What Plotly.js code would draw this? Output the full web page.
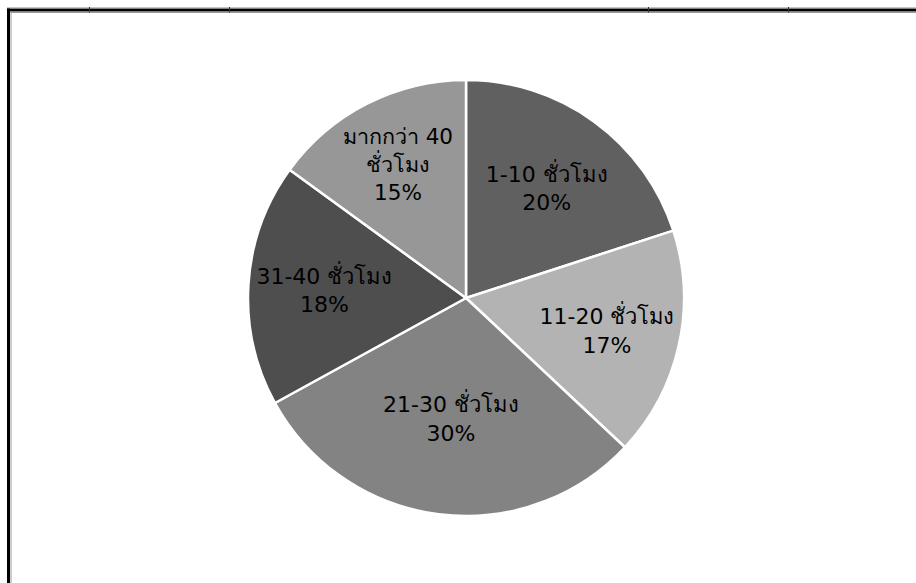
<!DOCTYPE html>
<html>
<head>
<meta charset="utf-8">
<script src="https://cdn.plot.ly/plotly-3.0.1.min.js"></script>
<style>
  html, body { margin: 0; padding: 0; background: #ffffff; }
  #chart { width: 916px; height: 583px; }
</style>
</head>
<body>
<div id="chart"></div>
<script>
const categories = ["1-10 ชั่วโมง", "11-20 ชั่วโมง", "21-30 ชั่วโมง", "31-40 ชั่วโมง", "มากกว่า 40<br>ชั่วโมง"];
const percents = [20, 17, 30, 18, 15];
const sliceColors = ["#606060", "#b3b3b3", "#838383", "#4e4e4e", "#979797"];

const trace = {
  type: "pie",
  labels: categories,
  values: percents,
  sort: false,
  direction: "clockwise",
  rotation: 0,
  marker: { colors: sliceColors, line: { color: "#ffffff", width: 2.5 } },
  textinfo: "label+percent",
  texttemplate: "%{label}<br>%{percent:.0%}",
  textposition: "inside",
  insidetextorientation: "horizontal",
  insidetextfont: { family: "Tahoma, 'DejaVu Sans', 'Noto Sans', sans-serif", size: 22, color: "#000000" },
  hoverinfo: "skip",
  showlegend: false,
  domain: { x: [0.0175, 1], y: [(285 - 218) / 583, (285 + 218) / 583] }
};

// small marks on the top frame line (cell-grid ticks)
const gridMarksPx = [89.5, 229.5, 648.5, 788.5];
const frameShapes = [
  { type: "line", xref: "paper", yref: "paper", x0: 0.0076, x1: 1, y0: 1 - 10/583, y1: 1 - 10/583, line: { color: "#000000", width: 3 } },
  { type: "line", xref: "paper", yref: "paper", x0: 0.0115, x1: 1, y0: 1 - 12.5/583, y1: 1 - 12.5/583, line: { color: "#9a9a9a", width: 1 } },
  { type: "line", xref: "paper", yref: "paper", x0: 0.0076, x1: 1, y0: 1 - 8/583, y1: 1 - 8/583, line: { color: "#8a8a8a", width: 1 } },
  { type: "line", xref: "paper", yref: "paper", x0: 8.5/916, x1: 8.5/916, y0: 0, y1: 1 - 8.5/583, line: { color: "#000000", width: 3 } },
  { type: "line", xref: "paper", yref: "paper", x0: 11/916, x1: 11/916, y0: 0, y1: 1 - 12/583, line: { color: "#9a9a9a", width: 1 } }
].concat(gridMarksPx.map(px => ({
  type: "line", xref: "paper", yref: "paper",
  x0: px/916, x1: px/916, y0: 1 - 7/583, y1: 1 - 12.5/583,
  line: { color: "#333333", width: 1 }
})));

const layout = {
  width: 916,
  height: 583,
  margin: { l: 0, r: 0, t: 0, b: 0 },
  paper_bgcolor: "#ffffff",
  showlegend: false,
  shapes: frameShapes
};

Plotly.newPlot("chart", [trace], layout, { displayModeBar: false, staticPlot: true });
</script>
</body>
</html>
